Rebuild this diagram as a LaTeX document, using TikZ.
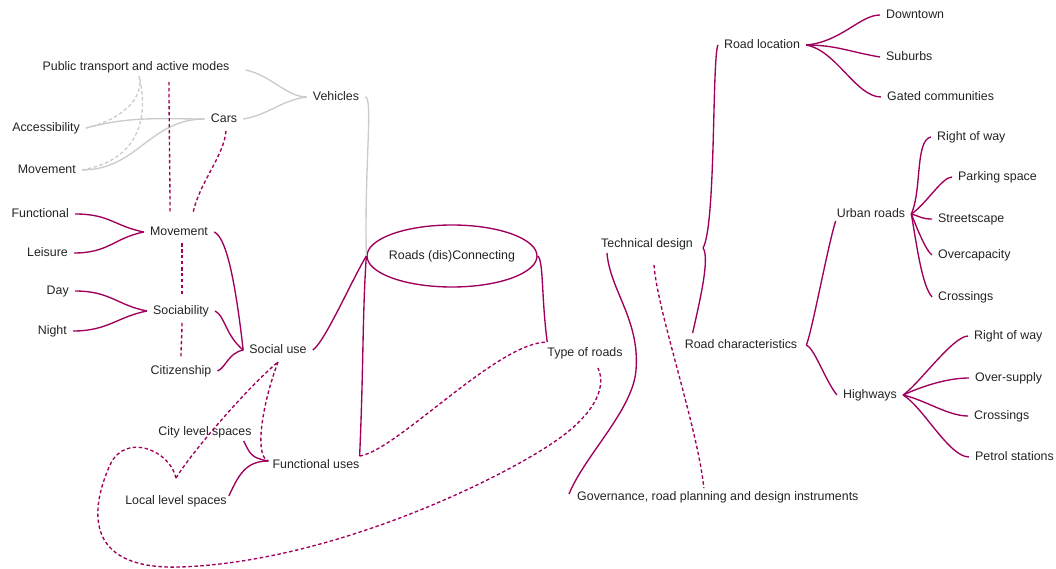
\documentclass[tikz,border=0pt]{standalone}
\usepackage{fontspec}
\setmainfont{Liberation Sans}
\usetikzlibrary{shapes.geometric}

\definecolor{branch}{RGB}{158,0,92}
\definecolor{faint}{RGB}{200,205,203}
\definecolor{ink}{RGB}{35,35,35}

\tikzset{
  topic/.style={inner xsep=6pt, inner ysep=3pt, text height=9pt,
    text depth=2.5pt, text=ink, font=\fontsize{12.4}{14}\selectfont},
  link/.style={draw=branch, line width=1.35pt},
  weak/.style={link, dash pattern=on 3.5pt off 2.5pt},
  grey/.style={draw=faint, line width=1.35pt},
  greydash/.style={grey, dash pattern=on 3.5pt off 2.5pt}
}

\begin{document}
\begin{tikzpicture}[x=1pt,y=-1pt]

  \useasboundingbox (0,0) rectangle (1056,569);

  % vehicles
  \node[topic] (ptam) at (136,67) {Public transport and active modes};
  \node[topic,anchor=east] (acc) at (86,128) {Accessibility};
  \node[topic,anchor=east] (movcar) at (82,170) {Movement};
  \node[topic] (cars) at (224,119) {Cars};
  \node[topic] (veh) at (336,97) {Vehicles};

  % social use
  \node[topic,anchor=east] (func) at (75,214) {Functional};
  \node[topic,anchor=east] (leis) at (74,253) {Leisure};
  \node[topic] (mov) at (179,232) {Movement};
  \node[topic,anchor=east] (day) at (75,291) {Day};
  \node[topic,anchor=east] (night) at (73,331) {Night};
  \node[topic] (soc) at (181,311) {Sociability};
  \node[topic] (cit) at (181,371) {Citizenship};
  \node[topic] (social) at (278,350) {Social use};

  % functional uses
  \node[topic] (city) at (205,432) {City level spaces};
  \node[topic] (local) at (176,501) {Local level spaces};
  \node[topic] (funcuses) at (316,465) {Functional uses};

  % centre
  \node[topic,ellipse,draw=branch,line width=1.35pt,inner sep=0pt,
    minimum width=170pt,minimum height=62pt] (roads) at (452,256)
    {\makebox[0pt]{Roads (dis)Connecting}};
  \node[topic] (type) at (585,353) {Type of roads};
  \node[topic] (tech) at (647,244) {Technical design};
  \node[topic,anchor=west] (gov) at (571,497)
    {Governance, road planning and design instruments};

  % road location
  \node[topic] (loc) at (762,45) {Road location};
  \node[topic,anchor=west] (down) at (880,15) {Downtown};
  \node[topic,anchor=west] (sub) at (880,57) {Suburbs};
  \node[topic,anchor=west] (gated) at (881,97) {Gated communities};

  % road characteristics
  \node[topic] (char) at (741,345) {Road characteristics};
  \node[topic] (urban) at (871,214) {Urban roads};
  \node[topic,anchor=west] (urow) at (931,137) {Right of way};
  \node[topic,anchor=west] (park) at (952,177) {Parking space};
  \node[topic,anchor=west] (street) at (932,219) {Streetscape};
  \node[topic,anchor=west] (over) at (932,255) {Overcapacity};
  \node[topic,anchor=west] (ucross) at (932,297) {Crossings};
  \node[topic] (hwy) at (870,395) {Highways};
  \node[topic,anchor=west] (hrow) at (968,336) {Right of way};
  \node[topic,anchor=west] (hover) at (969,378) {Over-supply};
  \node[topic,anchor=west] (hcross) at (968,416) {Crossings};
  \node[topic,anchor=west] (petrol) at (969,457) {Petrol stations};

  % branch points
  \coordinate (techtip) at ([xshift=4pt,yshift=-4pt]tech.east);
  \coordinate (chartip) at ([xshift=3pt]char.east);
  \coordinate (localtip) at ([yshift=14pt]local.north);
  \coordinate (funcorner) at ([xshift=-6pt]funcuses.north east);
  \coordinate (funcin) at ([xshift=2pt,yshift=4pt]funcuses.west);
  \coordinate (typecorner) at ([xshift=6pt,yshift=2pt]type.north west);

  % grey links
  \draw[grey] ([xshift=10pt,yshift=-3pt]ptam.east) .. controls +(25,5) and +(-20,0) .. (veh.west);
  \draw[grey] (cars.east) .. controls +(25,-4) and +(-25,3) .. (veh.west);
  \draw[grey] (acc.east) .. controls +(45,-12) and +(-45,0) .. (cars.west);
  \draw[grey] (movcar.east) .. controls +(55,0) and +(-55,0) .. (cars.west);
  \draw[grey] (veh.east) .. controls +(8,0) and +(-2,-90) .. (roads.west);
  \draw[greydash] (acc.east) .. controls +(35,-8) and +(6,22) .. ([xshift=3pt]ptam.south);
  \draw[greydash] (movcar.east) .. controls +(58,-10) and +(10,40) .. ([xshift=3pt]ptam.south);

  % dashed links
  \draw[weak] ([xshift=33pt,yshift=-6pt]ptam.south) .. controls +(0,40) and +(0,-40) .. ([xshift=-9pt,yshift=10pt]mov.north);
  \draw[weak] ([xshift=2pt,yshift=-3pt]cars.south) .. controls +(-2,25) and +(6,-30) .. ([xshift=14pt,yshift=10pt]mov.north);
  \draw[weak] ([xshift=3pt,yshift=-2pt]mov.south) .. controls +(0,15) and +(0,-15) .. ([xshift=1pt,yshift=6pt]soc.north);
  \draw[weak] ([xshift=1pt,yshift=-3pt]soc.south) .. controls +(0,10) and +(0,-10) .. ([yshift=5pt]cit.north);
  \draw[weak] ([yshift=-3pt]social.south) .. controls +(-15,40) and +(-15,-5) .. (funcin);
  \draw[weak] (localtip) .. controls +(15,-25) and +(-30,25) .. ([yshift=-3pt]social.south);
  \draw[weak] (localtip) .. controls (170,450) and (125,432) .. (110,465)
    .. controls (92,505) and (80,570) .. (180,567)
    .. controls (330,562) and (500,480) .. (557,440)
    .. controls (590,417) and (608,390) .. ([xshift=13pt,yshift=-6pt]type.south);
  \draw[weak] (funcorner) .. controls +(38,-6) and +(-50,0) .. (typecorner);
  \draw[weak] ([xshift=7pt,yshift=-12pt]tech.south) .. controls +(3,45) and +(-6,-60) .. ([xshift=-14pt]gov.north);

  % social use links
  \draw[link] (func.east) .. controls +(35,0) and +(-30,-6) .. (mov.west);
  \draw[link] (leis.east) .. controls +(35,0) and +(-30,6) .. (mov.west);
  \draw[link] (day.east) .. controls +(35,0) and +(-30,-6) .. (soc.west);
  \draw[link] (night.east) .. controls +(35,0) and +(-30,6) .. (soc.west);
  \draw[link] (mov.east) .. controls +(12,5) and +(-8,-70) .. (social.west);
  \draw[link] (soc.east) .. controls +(10,5) and +(-18,-15) .. (social.west);
  \draw[link] (cit.east) .. controls +(8,-3) and +(-15,3) .. (social.west);
  \draw[link] (social.east) .. controls +(12,-8) and +(-15,25) .. (roads.west);

  % functional uses links
  \draw[link] (funcorner) .. controls +(4,-90) and +(-4,60) .. (roads.west);
  \draw[link] ([xshift=-14pt]city.south east) .. controls +(6,12) and +(-18,-3) .. (funcin);
  \draw[link] ([xshift=-4pt,yshift=5pt]local.east) .. controls +(10,-22) and +(-22,0) .. (funcin);

  % type of roads links
  \draw[link] (roads.east) .. controls +(6,4) and +(-6,-45) .. (typecorner);
  \draw[link] ([xshift=12pt]tech.south west) .. controls +(3,37) and (640,320) .. (636,370)
    .. controls (633,410) and (585,455) .. ([xshift=-2pt,yshift=3pt]gov.west);
  \draw[link] (techtip) .. controls (716,225) and (712,60) .. (loc.west);
  \draw[link] (techtip) .. controls (710,258) and (700,300) .. ([xshift=14pt,yshift=3pt]char.north west);

  % road location links
  \draw[link] (loc.east) .. controls +(35,-3) and +(-20,0) .. (down.west);
  \draw[link] (loc.east) .. controls +(30,0) and +(-30,-5) .. (sub.west);
  \draw[link] (loc.east) .. controls +(30,5) and +(-25,0) .. (gated.west);

  % road characteristics links
  \draw[link] (chartip) .. controls +(6,-15) and +(-8,25) .. ([xshift=5pt,yshift=2pt]urban.south west);
  \draw[link] (chartip) .. controls +(8,3) and +(-12,-15) .. (hwy.west);
  \draw[link] (urban.east) .. controls (922,190) and (915,140) .. (urow.west);
  \draw[link] (urban.east) .. controls +(15,-10) and +(-10,0) .. (park.west);
  \draw[link] (urban.east) .. controls +(10,3) and +(-10,0) .. (street.west);
  \draw[link] (urban.east) .. controls +(6,15) and +(-6,-4) .. (over.west);
  \draw[link] (urban.east) .. controls +(6,35) and +(-10,-12) .. (ucross.west);
  \draw[link] (hwy.east) .. controls +(15,-10) and +(-15,0) .. (hrow.west);
  \draw[link] (hwy.east) .. controls +(22,-10) and +(-20,0) .. (hover.west);
  \draw[link] (hwy.east) .. controls +(22,5) and +(-20,0) .. (hcross.west);
  \draw[link] (hwy.east) .. controls +(20,12) and +(-20,0) .. (petrol.west);

\end{tikzpicture}
\end{document}
